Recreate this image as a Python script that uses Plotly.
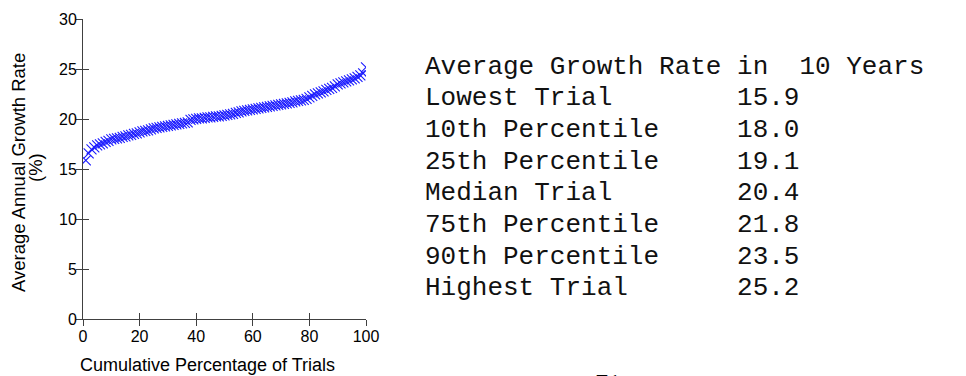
import plotly.graph_objects as go

# Cumulative percentage of trials (1..100) and the sorted average annual growth rates
cum_pct = list(range(1, 101))
growth = [
    15.9, 16.6, 17.0, 17.2, 17.4, 17.5, 17.6, 17.75, 17.85, 18.0,
    18.05, 18.1, 18.15, 18.25, 18.3, 18.4, 18.45, 18.55, 18.6, 18.7,
    18.8, 18.85, 18.9, 19.0, 19.1, 19.15, 19.2, 19.25, 19.3, 19.35,
    19.4, 19.45, 19.5, 19.55, 19.6, 19.65, 19.7, 19.95, 20.0, 20.05,
    20.1, 20.1, 20.15, 20.2, 20.2, 20.25, 20.3, 20.3, 20.35, 20.4,
    20.45, 20.5, 20.55, 20.65, 20.7, 20.8, 20.85, 20.9, 20.95, 21.0,
    21.05, 21.1, 21.15, 21.2, 21.25, 21.3, 21.35, 21.4, 21.45, 21.5,
    21.55, 21.6, 21.65, 21.7, 21.8, 21.85, 21.9, 21.95, 22.05, 22.2,
    22.35, 22.5, 22.6, 22.7, 22.8, 22.95, 23.05, 23.15, 23.3, 23.5,
    23.6, 23.7, 23.8, 23.9, 24.0, 24.1, 24.25, 24.4, 24.6, 25.2,
]

# Summary table
table_header = "Average Growth Rate in  10 Years"
stat_labels = ["Lowest Trial", "10th Percentile", "25th Percentile", "Median Trial",
               "75th Percentile", "90th Percentile", "Highest Trial"]
stat_values = [15.9, 18.0, 19.1, 20.4, 21.8, 23.5, 25.2]

x_ticks = [0, 20, 40, 60, 80, 100]
y_ticks = [0, 5, 10, 15, 20, 25, 30]

W, H = 966, 376
SANS = "Liberation Sans, Arial, sans-serif"
MONO = "Liberation Mono, Courier New, monospace"
AXIS_COL = "#404040"

x_dom = [83 / W, 366 / W]
y_dom = [(H - 319.3) / H, (H - 19.3) / H]

fig = go.Figure()
fig.add_trace(go.Scatter(
    x=cum_pct, y=growth, mode="markers", xaxis="x", yaxis="y",
    marker=dict(symbol="x-thin", size=10, line=dict(color="#1a1aff", width=1.1)),
    showlegend=False, hoverinfo="skip",
))
# empty trace so the overlay axes (inner tick halves) get drawn
fig.add_trace(go.Scatter(x=[], y=[], xaxis="x2", yaxis="y2", showlegend=False))

axis_common = dict(showgrid=False, zeroline=False, ticklen=6, tickwidth=1,
                   tickcolor=AXIS_COL, automargin=False)

fig.update_layout(
    width=W, height=H, margin=dict(l=0, r=0, t=0, b=0, autoexpand=False),
    paper_bgcolor="white", plot_bgcolor="white",
    xaxis=dict(domain=x_dom, range=[0, 100], tickvals=x_ticks, ticks="outside",
               showline=True, linecolor=AXIS_COL, linewidth=1, anchor="y",
               ticklabelstandoff=-4,
               tickfont=dict(family=SANS, size=16, color="black"), **axis_common),
    yaxis=dict(domain=y_dom, range=[0, 30], tickvals=y_ticks, ticks="outside",
               showline=True, linecolor=AXIS_COL, linewidth=1, anchor="x",
               ticklabelstandoff=-4,
               tickfont=dict(family=SANS, size=16, color="black"), **axis_common),
    xaxis2=dict(domain=x_dom, range=[0, 100], tickvals=x_ticks, ticks="inside",
                overlaying="x", anchor="y2", showticklabels=False, showline=False,
                **axis_common),
    yaxis2=dict(domain=y_dom, range=[0, 30], tickvals=y_ticks, ticks="inside",
                overlaying="y", anchor="x2", showticklabels=False, showline=False,
                **axis_common),
)

annotations = [
    dict(text="Cumulative Percentage of Trials", x=207 / W, y=1 - 365 / H,
         xref="paper", yref="paper", xanchor="center", yanchor="middle",
         showarrow=False, font=dict(family=SANS, size=18, color="black")),
    dict(text="Average Annual Growth Rate", x=18 / W, y=1 - 173 / H,
         xref="paper", yref="paper", xanchor="center", yanchor="middle",
         textangle=-90, showarrow=False,
         font=dict(family=SANS, size=18.5, color="black")),
    dict(text="(%)", x=35 / W, y=1 - 168 / H,
         xref="paper", yref="paper", xanchor="center", yanchor="middle",
         textangle=-90, showarrow=False,
         font=dict(family=SANS, size=18.5, color="black")),
    dict(text="71", x=593 / W, y=1 - 367 / H, xref="paper", yref="paper",
         xanchor="left", yanchor="top", showarrow=False,
         font=dict(family="Liberation Serif, Times New Roman, serif", size=26,
                   color="black")),
]

rows = [table_header] + [f"{lab:<20}{val:.1f}" for lab, val in zip(stat_labels, stat_values)]
row_top, row_step = 66.5, 31.67
for i, row in enumerate(rows):
    annotations.append(dict(
        text=row.replace(" ", "\u00a0"), x=423 / W, y=1 - (row_top + i * row_step) / H,
        xref="paper", yref="paper", xanchor="left", yanchor="middle",
        showarrow=False, font=dict(family=MONO, size=26, color="#111111"),
    ))

fig.update_layout(annotations=annotations)
fig.write_html("out.html")
